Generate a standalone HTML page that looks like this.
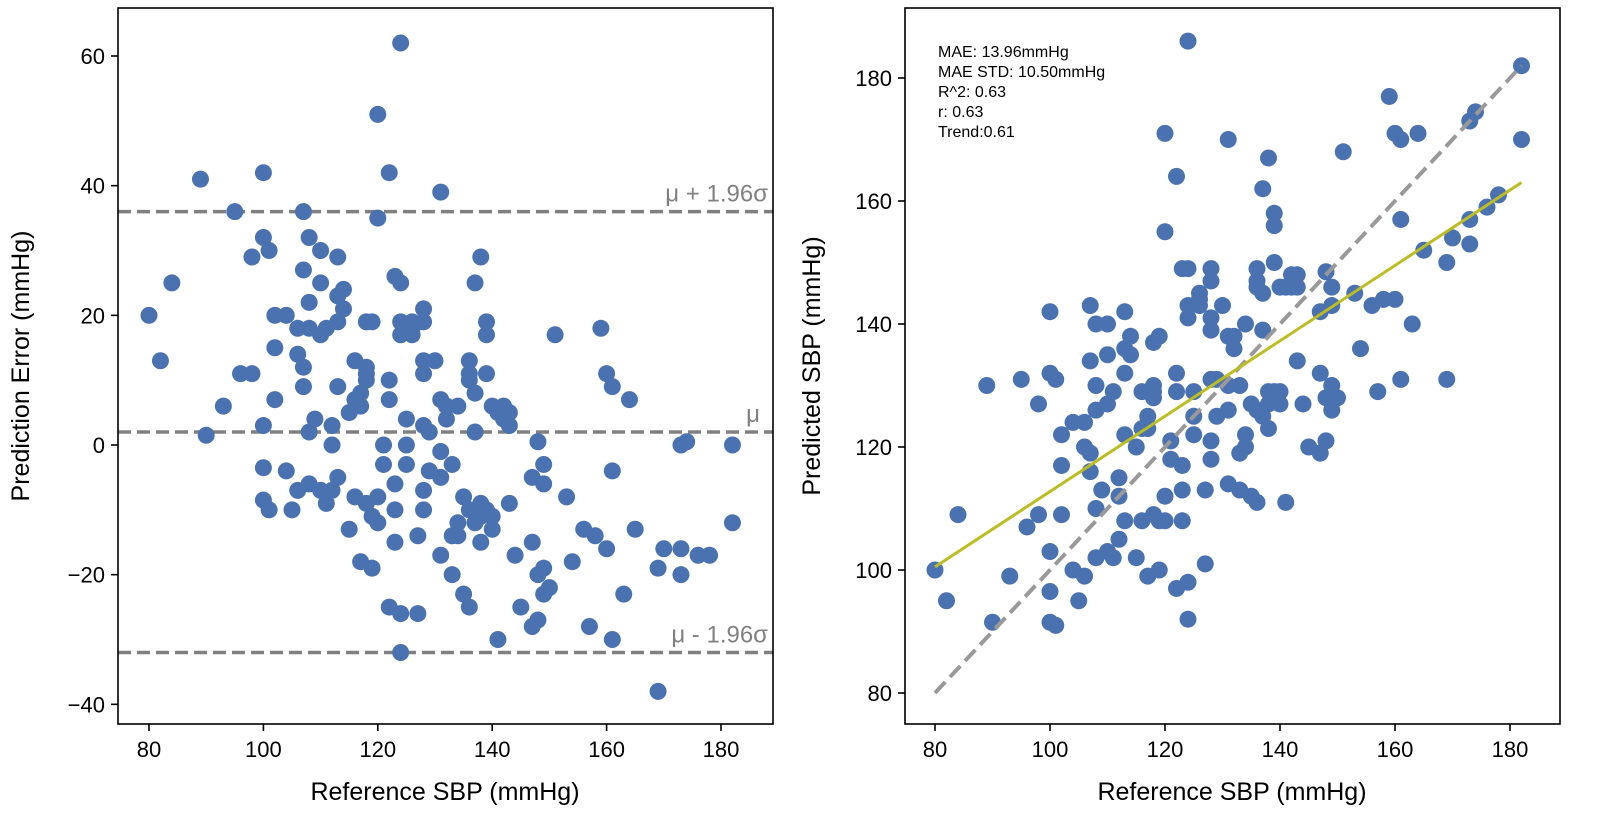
<!DOCTYPE html>
<html><head><meta charset="utf-8">
<style>
html,body{margin:0;padding:0;background:#fff;}
svg{display:block;font-family:"Liberation Sans",sans-serif;}
</style></head>
<body>
<svg id="chart" width="1606" height="834" viewBox="0 0 1606 834" xmlns="http://www.w3.org/2000/svg"></svg>
<script>
const refSBP = [80,82,84,89,90,93,95,96,98,98,100,100,100,100,100,101,101,102,102,102,104,104,105,106,106,106,107,107,107,107,108,108,108,108,108,109,110,110,110,110,111,111,112,112,112,113,113,113,113,113,114,114,115,115,116,116,116,117,117,117,118,118,118,118,118,119,119,119,120,120,120,120,121,121,122,122,122,122,123,123,123,123,124,124,124,124,124,124,125,125,125,126,126,126,127,127,128,128,128,128,128,128,128,129,129,130,131,131,131,131,131,132,132,133,133,133,134,134,134,135,135,136,136,136,136,136,137,137,137,137,138,138,138,138,139,139,139,139,140,140,140,141,141,142,142,143,143,143,144,145,147,147,147,148,148,148,149,149,149,149,150,151,153,154,156,157,158,159,160,160,161,161,161,163,164,165,169,169,170,173,173,173,174,176,178,182,182];
const predErr = [20,13,25,41,1.5,6,36,11,11,29,42,32,3,-3.5,-8.5,30,-10,20,15,7,20,-4,-10,18,14,-7,12,9,36,27,32,22,18,2,-6,4,30,25,17,-7,18,-9,3,0,-7,29,23,19,9,-5,21,24,-13,5,13,7,-8,6,-18,8,11,-9,19,12,10,19,-11,-19,51,35,-12,-8,0,-3,42,10,7,-25,-15,26,-10,-6,62,25,19,17,-26,-32,-3,4,0,18,19,17,-14,-26,21,19,13,11,3,-10,-7,2,-4,13,39,7,-1,-5,-17,4,6,-14,-20,-3,-14,-12,6,-23,-8,-25,13,11,10,-10,25,8,2,-12,29,-15,-9,-11,19,17,11,-10,6,-13,-11,-30,5,6,4,5,3,-9,-17,-25,-15,-28,-5,0.5,-20,-27,-19,-23,-3,-6,-22,17,-8,-18,-13,-28,-14,18,11,-16,9,-30,-4,-23,7,-13,-38,-19,-16,-20,-16,0,0.5,-17,-17,0,-12];
const meanErr = 2;
const upperLoA = 36;
const lowerLoA = -32;
const trendEnds = [100.5, 163];
const leftXTicks = [80,100,120,140,160,180];
const leftYTicks = [-40,-20,0,20,40,60];
const rightYTicks = [80,100,120,140,160,180];
const statsText = ["MAE: 13.96mmHg","MAE STD: 10.50mmHg","R^2: 0.63","r: 0.63","Trend:0.61"];

const NS="http://www.w3.org/2000/svg";
const svg=document.getElementById('chart');
function mk(tag,attrs,parent,text){const e=document.createElementNS(NS,tag);for(const k in attrs)e.setAttribute(k,attrs[k]);if(text!==undefined)e.textContent=text;(parent||svg).appendChild(e);return e;}

const lx=v=>149+(v-80)*(721-149)/100;
const ly=v=>445-v*(445-56)/60;
const rx=v=>935+(v-80)*(1510-935)/100;
const ry=v=>693-(v-80)*(693-78)/100;

// ---------- LEFT ----------
const L=mk('g',{});


[[upperLoA,'upper-loa-line'],[meanErr,'mean-line'],[lowerLoA,'lower-loa-line']].forEach(([v,n])=>{
  const l=mk('line',{x1:118,x2:773,y1:ly(v),y2:ly(v),stroke:'#808080','stroke-width':3.5,'stroke-dasharray':'13,6'},L);
  
  
});
const t1=mk('text',{x:768,y:ly(upperLoA)-10,'text-anchor':'end','font-size':24,fill:'#808080'},L,'μ + 1.96σ');

const t2=mk('text',{x:760,y:ly(meanErr)-10,'text-anchor':'end','font-size':24,fill:'#808080'},L,'μ');

const t3=mk('text',{x:768,y:ly(lowerLoA)-10,'text-anchor':'end','font-size':24,fill:'#808080'},L,'μ - 1.96σ');

refSBP.forEach((r,i)=>{
  const c=mk('circle',{cx:lx(r),cy:ly(predErr[i]),r:8.5,fill:'#4a72b0'},L);
  
  
});
const lb=mk('rect',{x:118,y:8,width:655,height:716,fill:'none',stroke:'#000','stroke-width':1.6},L);

leftXTicks.forEach(v=>{
  mk('line',{x1:lx(v),x2:lx(v),y1:724,y2:731,stroke:'#000','stroke-width':1.6},L);
  const t=mk('text',{x:lx(v),y:757,'text-anchor':'middle','font-size':22},L,v);
  
});
leftYTicks.forEach(v=>{
  mk('line',{x1:111,x2:118,y1:ly(v),y2:ly(v),stroke:'#000','stroke-width':1.6},L);
  const t=mk('text',{x:105,y:ly(v)+8,'text-anchor':'end','font-size':22},L,v<0?'−'+(-v):v);
  
});
const lxt=mk('text',{x:445,y:800,'text-anchor':'middle','font-size':25},L,'Reference SBP (mmHg)');

const lyt=mk('text',{x:0,y:0,'text-anchor':'middle','font-size':25,transform:'translate(29,366) rotate(-90)'},L,'Prediction Error (mmHg)');


// ---------- RIGHT ----------
const R=mk('g',{});


refSBP.forEach((r,i)=>{
  const c=mk('circle',{cx:rx(r),cy:ry(r+predErr[i]),r:8.5,fill:'#4a72b0'},R);
  
  
});
const idl=mk('line',{x1:rx(80),y1:ry(80),x2:rx(182),y2:ry(182),stroke:'#999','stroke-width':4,'stroke-dasharray':'15,7'},R);

const tl=mk('line',{x1:rx(80),y1:ry(trendEnds[0]),x2:rx(182),y2:ry(trendEnds[1]),stroke:'#bcbd22','stroke-width':3},R);

statsText.forEach((s,i)=>{
  const t=mk('text',{x:938,y:57+i*20,'font-size':16},R,s);
  
});
const rb=mk('rect',{x:905,y:8,width:655,height:716,fill:'none',stroke:'#000','stroke-width':1.6},R);

leftXTicks.forEach(v=>{
  mk('line',{x1:rx(v),x2:rx(v),y1:724,y2:731,stroke:'#000','stroke-width':1.6},R);
  const t=mk('text',{x:rx(v),y:757,'text-anchor':'middle','font-size':22},R,v);
  
});
rightYTicks.forEach(v=>{
  mk('line',{x1:898,x2:905,y1:ry(v),y2:ry(v),stroke:'#000','stroke-width':1.6},R);
  const t=mk('text',{x:892,y:ry(v)+8,'text-anchor':'end','font-size':22},R,v);
  
});
const rxt=mk('text',{x:1232,y:800,'text-anchor':'middle','font-size':25},R,'Reference SBP (mmHg)');

const ryt=mk('text',{x:0,y:0,'text-anchor':'middle','font-size':25,transform:'translate(820,366) rotate(-90)'},R,'Predicted SBP (mmHg)');

</script>
</body></html>
